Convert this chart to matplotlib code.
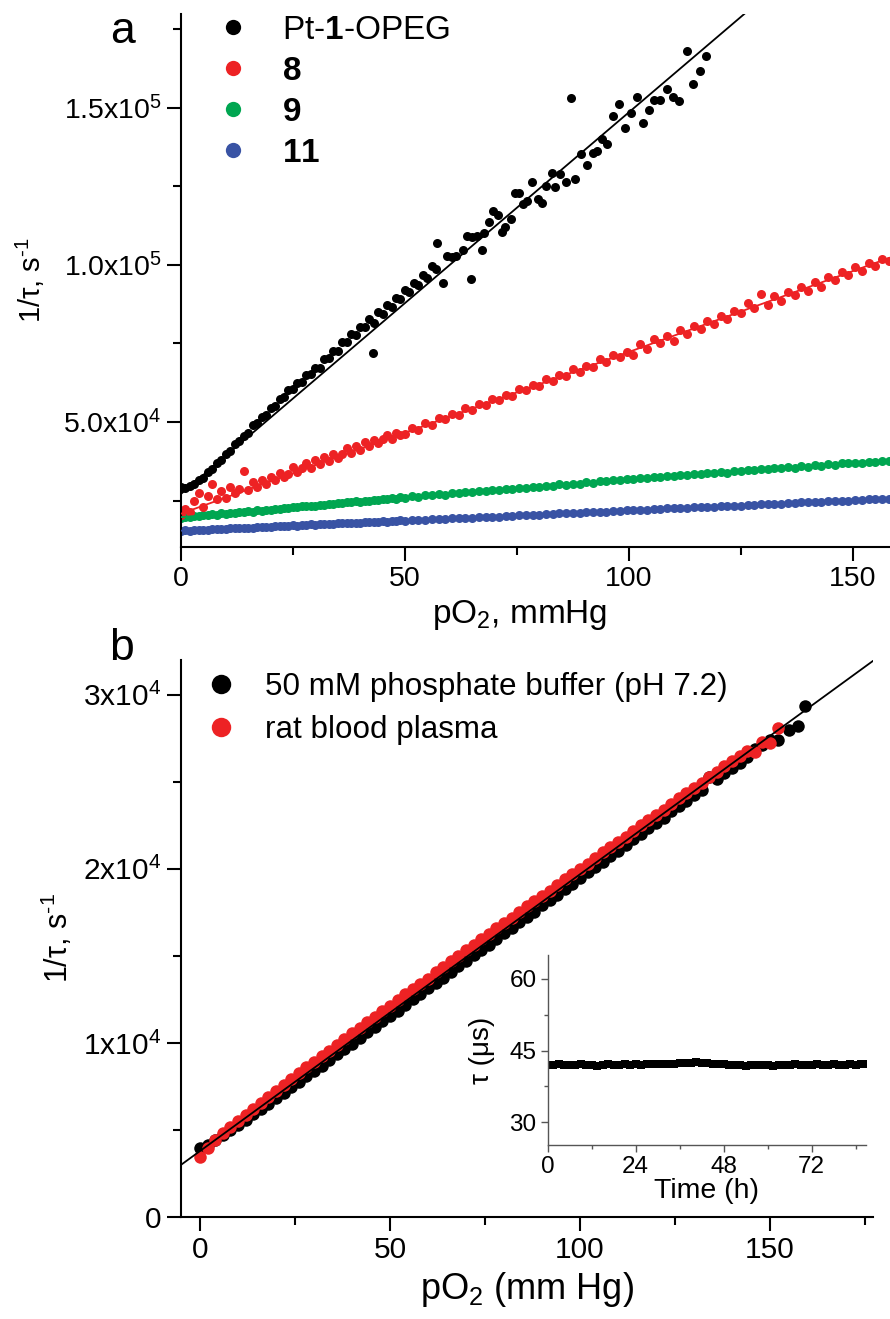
import numpy as np
import matplotlib
matplotlib.use("Agg")
import matplotlib.pyplot as plt
from matplotlib.lines import Line2D
from matplotlib.ticker import FixedLocator

plt.rcParams['font.family'] = ['Liberation Sans', 'DejaVu Sans']
plt.rcParams['mathtext.fontset'] = 'custom'
plt.rcParams['mathtext.rm'] = 'Liberation Sans'
plt.rcParams['mathtext.it'] = 'Liberation Sans:italic'
plt.rcParams['mathtext.bf'] = 'Liberation Sans:bold'

# ---------------- panel a: 1/tau vs pO2 for four probes ----------------
pa_x = [0, 1, 2, 3, 4, 5, 6, 7, 8, 9,
        10, 11, 12, 13, 14, 15, 16, 17, 18, 19,
        20, 21, 22, 23, 24, 25, 26, 27, 28, 29,
        30, 31, 32, 33, 34, 35, 36, 37, 38, 39,
        40, 41, 42, 43, 44, 45, 46, 47, 48, 49,
        50, 51.5, 53, 54.5, 56, 57.5, 59, 60.5, 62, 63.5,
        65, 66.5, 68, 69.5, 71, 72.5, 74, 75.5, 77, 78.5,
        80, 81.5, 83, 84.5, 86, 87.5, 89, 90.5, 92, 93.5,
        95, 96.5, 98, 99.5, 101, 102.5, 104, 105.5, 107, 108.5,
        110, 111.5, 113, 114.5, 116, 117.5, 119, 120.5, 122, 123.5,
        125, 126.5, 128, 129.5, 131, 132.5, 134, 135.5, 137, 138.5,
        140, 141.5, 143, 144.5, 146, 147.5, 149, 150.5, 152, 153.5,
        155, 156.5, 158]

red_a = [20500, 22400, 21500, 24800, 27400, 23000, 26500, 30200, 25600, 27900,
         25800, 29300, 27300, 28600, 34300, 28200, 30800, 29400, 31500, 30300,
         32600, 31400, 33800, 32400, 33600, 35600, 34000, 35300, 36900, 35500,
         37800, 36600, 38900, 37500, 39900, 38500, 39700, 41600, 40100, 42300,
         41200, 43500, 42200, 44400, 43200, 44600, 45900, 44700, 46600, 45800,
         46300, 48200, 47600, 49800, 49200, 51300, 50800, 52400, 52200, 54500,
         53800, 55600, 55300, 57400, 56900, 58600, 58400, 60600, 60100, 61800,
         61600, 63600, 62900, 64900, 64600, 66900, 66000, 67900, 67500, 70200,
         69200, 71400, 70600, 72300, 71200, 74900, 73300, 76400, 75000, 77300,
         75700, 79300, 77900, 80600, 79600, 82300, 81200, 83900, 82800, 85300,
         84700, 87800, 86200, 90800, 87400, 90000, 88600, 91500, 90300, 93100,
         91800, 94600, 93100, 96100, 95200, 97900, 96800, 99400, 98100, 100500,
         99600, 101800, 101300]

green_a = [19500, 19800, 19800, 20100, 20000, 20300, 20300, 20600, 20500, 20900,
           20800, 21100, 21000, 21400, 21300, 21600, 21500, 21900, 21800, 22100,
           22100, 22400, 22300, 22600, 22600, 22900, 22800, 23200, 23100, 23400,
           23300, 23700, 23600, 23900, 23800, 24200, 24100, 24400, 24400, 24700,
           24600, 24900, 24900, 25200, 25100, 25500, 25400, 25700, 25600, 26000,
           25900, 26300, 26200, 26600, 26600, 27000, 26900, 27300, 27300, 27700,
           27600, 28000, 28000, 28300, 28300, 28700, 28700, 29000, 29000, 29400,
           29400, 29700, 29700, 30100, 30000, 30400, 30400, 30800, 30700, 31100,
           31100, 31500, 31400, 31800, 31800, 32200, 32100, 32500, 32400, 32800,
           32700, 33100, 33000, 33400, 33300, 33700, 33700, 34000, 33700, 34300,
           34300, 34600, 34600, 34900, 34900, 35300, 35200, 35600, 35500, 35900,
           35800, 36200, 36100, 36500, 36400, 36800, 36800, 37100, 37100, 37400,
           37400, 37700, 37700]

blue_a = [15400, 15500, 15400, 15600, 15600, 15700, 15700, 15900, 15800, 16000,
          16000, 16200, 16100, 16300, 16200, 16400, 16400, 16500, 16500, 16700,
          16600, 16800, 16800, 16900, 16900, 17100, 17000, 17200, 17200, 17400,
          17300, 17500, 17400, 17600, 17600, 17700, 17700, 17900, 17800, 18000,
          18000, 18100, 18100, 18300, 18200, 18400, 18300, 18500, 18500, 18700,
          18600, 18800, 18700, 18900, 19000, 19100, 19100, 19300, 19300, 19500,
          19500, 19700, 19700, 19900, 19900, 20100, 20100, 20300, 20300, 20500,
          20500, 20700, 20700, 20900, 20900, 21100, 21100, 21300, 21300, 21500,
          21500, 21700, 21700, 21900, 21900, 22100, 22100, 22300, 22300, 22500,
          22500, 22600, 22700, 22800, 22800, 23000, 23000, 23200, 23200, 23400,
          23400, 23600, 23600, 23800, 23800, 24000, 24000, 24200, 24200, 24400,
          24400, 24600, 24600, 24800, 24800, 25000, 25000, 25200, 25200, 25400,
          25400, 25600, 25600]

# Pt-1-OPEG: dense part at low pO2 and the scattered points above ~58 mmHg
black_a_x = [0, 1, 2, 3, 4, 5, 6, 7, 8, 9,
             10, 11, 12, 13, 14, 15, 16, 17, 18, 19,
             20, 21, 22, 23, 24, 25, 26, 27, 28, 29,
             30, 31, 32, 33, 34, 35, 36, 37, 38, 39,
             40, 41, 42, 43, 44, 45, 46, 47, 48, 49,
             50, 51, 52, 53, 54, 55, 56, 57, 42.9, 57.1,
             58.5, 59.3, 60.4, 61.5, 62.9, 63.8, 64.7, 65.0, 66.2, 67.1,
             67.7, 68.8, 69.7, 70.8, 71.6, 72.4, 73.6, 74.5, 75.4, 76.4,
             77.3, 78.4, 79.6, 80.5, 81.6, 82.8, 83.5, 84.7, 85.9, 87.0,
             88.0, 89.4, 90.6, 91.9, 92.9, 94.1, 95.2, 96.5, 97.8, 99.1,
             100.4, 101.8, 103.1, 104.5, 105.6, 106.9, 108.6, 109.9, 111.3, 112.9,
             114.3, 115.8, 117.3]
black_a_y = [29300, 29000, 29700, 30200, 31400, 32300, 34100, 35000, 37000, 37900,
             39900, 40800, 42900, 44000, 45700, 46400, 48900, 49600, 51500, 52300,
             54600, 55200, 57300, 57800, 60300, 60600, 62500, 62700, 64900, 65300,
             67200, 67200, 70100, 70300, 72600, 72700, 75500, 75400, 77900, 77600,
             80400, 80100, 82700, 81600, 84900, 84500, 87400, 86700, 89600, 89200,
             92000, 91300, 94300, 93600, 96800, 95900, 99600, 98700, 71900, 106900,
             94160, 102860, 102450, 102860, 104770, 109230, 95640, 108850, 109230, 104770,
             110330, 113800, 117190, 115920, 110440, 112210, 114650, 123020, 123020, 119420,
             120380, 126530, 120900, 119830, 125160, 129430, 124930, 128880, 126430, 153190,
             127480, 135250, 131750, 135600, 136420, 140250, 138440, 147550, 151270, 143630,
             148310, 153600, 145320, 149270, 152550, 152550, 155960, 153600, 152230, 168150,
             157740, 161780, 166660]

# linear fits (intercept, slope)
fit_black_a = [27100, 1215]
fit_red_a = [20800, 515]
fit_green_a = [19700, 115]
fit_blue_a = [15400, 65]

labels_a = [r"Pt-$\mathbf{1}$-OPEG", r"$\mathbf{8}$", r"$\mathbf{9}$", r"$\mathbf{11}$"]
yticks_a = [5e4, 1e5, 1.5e5]
yticklabels_a = ["5.0x10$^4$", "1.0x10$^5$", "1.5x10$^5$"]

# ---------------- panel b: buffer vs blood plasma ----------------
pb_x = [0, 2, 4, 6, 8, 10, 12, 14, 16, 18,
        20, 22, 24, 26, 28, 30, 32, 34, 36, 38,
        40, 42, 44, 46, 48, 50, 52, 54, 56, 58,
        60, 62, 64, 66, 68, 70, 72, 74, 76, 78,
        80, 82, 84, 86, 88, 90, 92, 94, 96, 98,
        100, 102, 104, 106, 108, 110, 112, 114, 116, 118,
        120, 122, 124, 126, 128, 130, 132, 134, 136, 138,
        140, 142, 144, 146, 148, 150]
plasma_b = [3450, 3950, 4400, 4800, 5150, 5500, 5850, 6200, 6550, 6900,
            7250, 7600, 7900, 8250, 8600, 8900, 9250, 9550, 9900, 10200,
            10550, 10850, 11200, 11500, 11850, 12150, 12450, 12800, 13100, 13400,
            13700, 14050, 14350, 14700, 15000, 15350, 15650, 15950, 16250, 16600,
            16900, 17200, 17550, 17850, 18150, 18450, 18750, 19100, 19400, 19700,
            20000, 20300, 20600, 20950, 21250, 21550, 21850, 22200, 22500, 22800,
            23100, 23400, 23700, 24050, 24350, 24650, 24950, 25250, 25550, 25900,
            26200, 26500, 26800, 26700, 27300, 27240]
buffer_b = [3950, 4150, 4400, 4700, 5000, 5300, 5600, 5900, 6200, 6500,
            6850, 7150, 7450, 7750, 8100, 8400, 8700, 9000, 9350, 9650,
            9950, 10300, 10600, 10900, 11250, 11550, 11850, 12200, 12500, 12800,
            13150, 13450, 13750, 14100, 14400, 14700, 15050, 15350, 15650, 16000,
            16300, 16600, 16950, 17250, 17550, 17900, 18200, 18500, 18850, 19150,
            19450, 19800, 20100, 20400, 20750, 21050, 21350, 21700, 22000, 22350,
            22650, 22950, 23300, 23600, 23900, 24250, 24550, 25270, 25150, 25500,
            25800, 26100, 26450, 26900, 27100, 27400]
plasma_tail_x = [152.2]
plasma_tail_y = [28120]
buffer_tail_x = [152.2, 155.1, 157.4, 159.2]
buffer_tail_y = [27410, 27990, 28220, 29370]
fit_b = [3790, 159]

labels_b = ["50 mM phosphate buffer (pH 7.2)", "rat blood plasma"]
yticks_b = [0, 1e4, 2e4, 3e4]
yticklabels_b = ["0", "1x10$^4$", "2x10$^4$", "3x10$^4$"]

# inset: lifetime stability over time
inset_t = [0, 1.5, 3, 4.5, 6, 7.5, 9, 10.5, 12, 13.5,
           15, 16.5, 18, 19.5, 21, 22.5, 24, 25.5, 27, 28.5,
           30, 31.5, 33, 34.5, 36, 37.5, 39, 40.5, 42, 43.5,
           45, 46.5, 48, 49.5, 51, 52.5, 54, 55.5, 57, 58.5,
           60, 61.5, 63, 64.5, 66, 67.5, 69, 70.5, 72, 73.5,
           75, 76.5, 78, 79.5, 81, 82.5, 84, 85.5, 86.5]
inset_tau = [42.0, 41.9, 42.1, 42.0, 41.9, 42.0, 42.1, 41.9, 42.0, 41.8,
             42.0, 42.1, 41.9, 42.0, 42.2, 42.0, 42.1, 41.9, 42.1, 42.2,
             42.1, 42.2, 42.3, 42.2, 42.4, 42.5, 42.4, 42.6, 42.5, 42.4,
             42.3, 42.2, 42.1, 42.0, 41.9, 42.0, 41.8, 41.9, 42.0, 41.9,
             42.0, 41.8, 41.9, 42.0, 41.9, 42.1, 41.9, 42.0, 41.9, 42.1,
             42.0, 41.9, 42.1, 42.0, 41.9, 42.1, 42.0, 42.1, 42.2]

BLACK = '#000000'
RED = '#ED2224'
GREEN = '#00A651'
BLUE = '#3953A4'

YLABEL = r"1/τ, s$^{\text{-}1}$"

W, H = 890.0, 1319.0
fig = plt.figure(figsize=(W / 100, H / 100), dpi=100)


def px_axes(left, top, right, bottom):
    return fig.add_axes([left / W, 1 - bottom / H, (right - left) / W, (bottom - top) / H])


def origin_style(ax, lw=1.5, major=10, minor=6, size=20.5, color='black'):
    for s in ['top', 'right']:
        ax.spines[s].set_visible(False)
    for s in ['left', 'bottom']:
        ax.spines[s].set_linewidth(lw)
        ax.spines[s].set_color(color)
    ax.tick_params(which='major', direction='out', length=major, width=lw,
                   labelsize=size, pad=4, color=color)
    ax.tick_params(which='minor', direction='out', length=minor, width=lw, color=color)


def fit_line(ax, fit, color):
    xs = np.array(ax.get_xlim())
    ax.plot(xs, fit[0] + fit[1] * xs, color=color, lw=1.3, zorder=4)


# ---- panel a ----
ax_a = px_axes(181, 14, 890, 547)
ax_a.set_xlim(0, 158.3)
ax_a.set_ylim(10200, 179900)
ms_a = 6.5
ax_a.plot(pa_x, blue_a, 'o', ms=ms_a, mew=0, color=BLUE, zorder=2)
ax_a.plot(pa_x, green_a, 'o', ms=ms_a, mew=0, color=GREEN, zorder=2)
ax_a.plot(pa_x, red_a, 'o', ms=ms_a, mew=0, color=RED, zorder=2)
ax_a.plot(black_a_x, black_a_y, 'o', ms=ms_a, mew=0, color=BLACK, zorder=3)
fit_line(ax_a, fit_blue_a, BLUE)
fit_line(ax_a, fit_green_a, GREEN)
fit_line(ax_a, fit_red_a, RED)
fit_line(ax_a, fit_black_a, BLACK)

origin_style(ax_a)
ax_a.xaxis.set_major_locator(FixedLocator([0, 50, 100, 150]))
ax_a.xaxis.set_minor_locator(FixedLocator([25, 75, 125]))
ax_a.yaxis.set_major_locator(FixedLocator(yticks_a))
ax_a.set_yticklabels(yticklabels_a)
ax_a.yaxis.set_minor_locator(FixedLocator([2.5e4, 7.5e4, 1.25e5, 1.75e5]))
ax_a.set_xlabel("pO$_2$, mmHg", fontsize=24)
ax_a.xaxis.label.set_x(0.478)
ax_a.set_ylabel(YLABEL, fontsize=21)
ax_a.yaxis.label.set_verticalalignment('center')
ax_a.yaxis.set_label_coords(-0.213, 0.5)

handles_a = [Line2D([], [], ls='none', marker='o', ms=11, mew=0, color=c)
             for c in [BLACK, RED, GREEN, BLUE]]
ax_a.legend(handles_a, labels_a, loc='upper left', frameon=False, fontsize=24,
            bbox_to_anchor=(216 / W, 1 - 15 / H), bbox_transform=fig.transFigure,
            borderpad=0, borderaxespad=0, handlelength=1.0, handletextpad=0.98,
            labelspacing=0.3)
fig.text(122 / W, 1 - 43 / H, 'a', fontsize=32, ha='center', va='baseline')

# ---- panel b ----
ax_b = px_axes(181, 660, 873, 1217)
ax_b.set_xlim(-5, 177.1)
ax_b.set_ylim(0, 32000)
ms_b = 9
ax_b.plot(pb_x + buffer_tail_x, buffer_b + buffer_tail_y, 'o', ms=ms_b, mew=0,
          color=BLACK, zorder=2)
ax_b.plot(pb_x + plasma_tail_x, plasma_b + plasma_tail_y, 'o', ms=ms_b, mew=0,
          color=RED, zorder=3)
fit_line(ax_b, fit_b, BLACK)

origin_style(ax_b, size=21.5)
ax_b.xaxis.set_major_locator(FixedLocator([0, 50, 100, 150]))
ax_b.xaxis.set_minor_locator(FixedLocator([25, 75, 125, 175]))
ax_b.yaxis.set_major_locator(FixedLocator(yticks_b))
ax_b.set_yticklabels(yticklabels_b)
ax_b.yaxis.set_minor_locator(FixedLocator([5000, 15000, 25000]))
ax_b.set_xlabel("pO$_2$ (mm Hg)", fontsize=26)
ax_b.set_ylabel(YLABEL, fontsize=22)
ax_b.yaxis.label.set_verticalalignment('center')
ax_b.yaxis.set_label_coords(-0.179, 0.5)

handles_b = [Line2D([], [], ls='none', marker='o', ms=14, mew=0, color=c)
             for c in [BLACK, RED]]
ax_b.legend(handles_b, labels_b, loc='upper left', frameon=False, fontsize=22.6,
            bbox_to_anchor=(205 / W, 1 - 672 / H), bbox_transform=fig.transFigure,
            borderpad=0, borderaxespad=0, handlelength=1.0, handletextpad=0.9,
            labelspacing=0.42)
fig.text(122 / W, 1 - 660 / H, 'b', fontsize=32, ha='center', va='baseline')

# ---- inset ----
ax_in = px_axes(547.7, 955, 866, 1145)
ax_in.set_xlim(0, 86.8)
ax_in.set_ylim(25.25, 65)
ax_in.plot(inset_t, inset_tau, 's', ms=6, mew=0, color=BLACK)
origin_style(ax_in, lw=1.0, major=5, minor=3, size=17.5, color='#555555')
ax_in.tick_params(labelcolor='black', pad=3)
ax_in.xaxis.set_major_locator(FixedLocator([0, 24, 48, 72]))
ax_in.xaxis.set_minor_locator(FixedLocator([12, 36, 60, 84]))
ax_in.yaxis.set_major_locator(FixedLocator([30, 45, 60]))
ax_in.yaxis.set_minor_locator(FixedLocator([37.5, 52.5]))
ax_in.set_xlabel("Time (h)", fontsize=20.5, labelpad=0)
ax_in.set_ylabel("τ (μs)", fontsize=20)
ax_in.yaxis.label.set_verticalalignment('center')
ax_in.yaxis.set_label_coords(-0.206, 0.5)

fig.savefig("out.png", dpi=100)
